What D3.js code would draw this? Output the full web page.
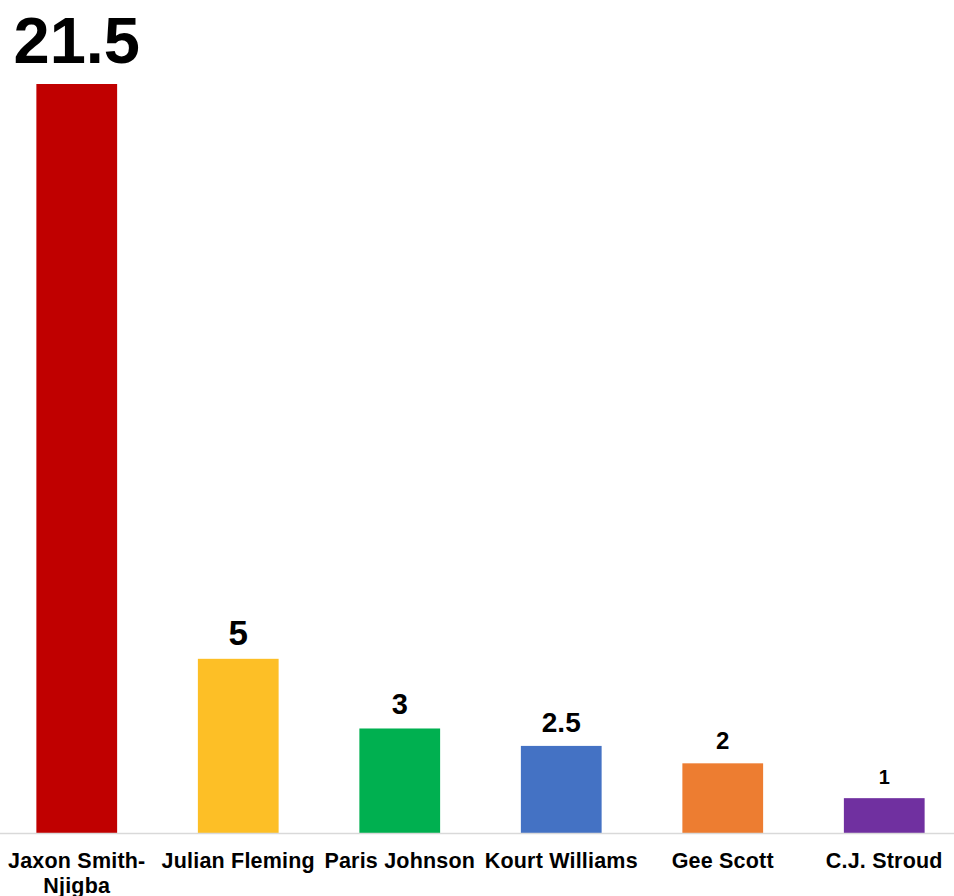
<!DOCTYPE html>
<html>
<head>
<meta charset="utf-8">
<script src="https://cdn.jsdelivr.net/npm/d3@7"></script>
<style>
  html, body { margin: 0; padding: 0; background: #ffffff; }
  svg { display: block; }
</style>
</head>
<body>
<script>
const categories = ["Jaxon Smith-Njigba", "Julian Fleming", "Paris Johnson", "Kourt Williams", "Gee Scott", "C.J. Stroud"];
const values = [21.5, 5, 3, 2.5, 2, 1];
const valueLabels = ["21.5", "5", "3", "2.5", "2", "1"];
const barColors = ["#c00000", "#fdbf26", "#00b050", "#4472c4", "#ed7d31", "#7030a0"];
const labelFontSizes = [65, 35, 29, 28, 24, 20];

const W = 954, H = 896;
const svg = d3.select("body").append("svg").attr("width", W).attr("height", H);

const x = d3.scaleBand().domain(categories).range([-4, 965]).paddingInner(0.5).paddingOuter(0.25);
const y = d3.scaleLinear().domain([0, 21.5]).range([833, 84]);

const data = categories.map((c, i) => ({ c, v: values[i], lab: valueLabels[i], color: barColors[i], fs: labelFontSizes[i] }));

svg.selectAll("rect.bar").data(data).join("rect")
  .attr("class", "bar")
  .attr("x", d => x(d.c))
  .attr("width", x.bandwidth())
  .attr("y", d => y(d.v))
  .attr("height", d => y(0) - y(d.v))
  .attr("fill", d => d.color);

// baseline axis
const axis = d3.axisBottom(x).tickSize(0).tickFormat("");
const gAxis = svg.append("g").attr("transform", `translate(0,${y(0) + 0.5})`).call(axis);
gAxis.select(".domain").remove();
gAxis.append("line").attr("x1", 0).attr("x2", W).attr("y1", 0).attr("y2", 0)
  .attr("stroke", "#d9d9d9").attr("stroke-width", 1.5);

// value labels
svg.selectAll("text.val").data(data).join("text")
  .attr("class", "val")
  .attr("x", d => x(d.c) + x.bandwidth() / 2)
  .attr("y", d => y(d.v) - (d.fs > 50 ? 21 : 14))
  .attr("text-anchor", "middle")
  .attr("font-family", "Liberation Sans, Arial, sans-serif")
  .attr("font-weight", "bold")
  .attr("font-size", d => d.fs)
  .attr("fill", "#000")
  .text(d => d.lab);

// category labels with wrapping
const catG = svg.selectAll("text.cat").data(data).join("text")
  .attr("class", "cat")
  .attr("x", d => x(d.c) + x.bandwidth() / 2)
  .attr("y", 868)
  .attr("text-anchor", "middle")
  .attr("font-family", "Liberation Sans, Arial, sans-serif")
  .attr("font-weight", "bold")
  .attr("font-size", 21.5)
  .attr("letter-spacing", 0.2)
  .attr("fill", "#000");

catG.each(function(d) {
  const t = d3.select(this);
  const cx = x(d.c) + x.bandwidth() / 2;
  t.text(d.c);
  if (this.getComputedTextLength() > x.step() - 4 && d.c.includes("-")) {
    const idx = d.c.indexOf("-") + 1;
    const parts = [d.c.slice(0, idx), d.c.slice(idx)];
    t.text(null);
    parts.forEach((p, k) => {
      t.append("tspan").attr("x", cx).attr("dy", k === 0 ? 0 : 25).text(p);
    });
  }
});
</script>
</body>
</html>
